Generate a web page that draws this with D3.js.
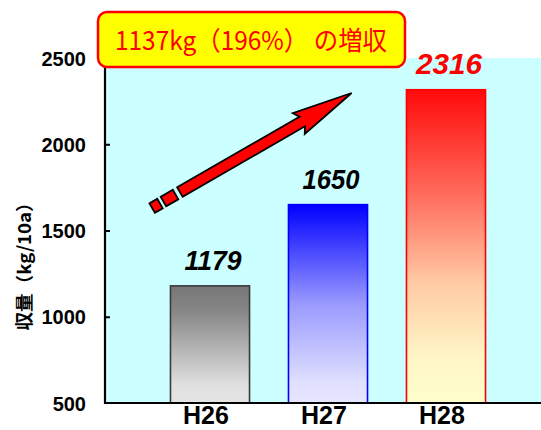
<!DOCTYPE html>
<html><head><meta charset="utf-8">
<script src="https://cdn.jsdelivr.net/npm/d3@7"></script>
<style>body{margin:0;background:#fff}svg{display:block}</style>
</head><body>
<svg id="c" width="541" height="430"></svg>
<script>
const categories = ["H26", "H27", "H28"];
const values = [1179, 1650, 2316];
const yTicks = [500, 1000, 1500, 2000, 2500];
const yTitle = "収量（kg/10a）";
const callout = "1137kg（196%） の増収";
const arrowFrom = {cat: "H26", offset: -0.49, value: 1630};
const arrowTo = {cat: "H27", offset: 0.2, value: 2297};

const svg = d3.select("#c");
const plot = {left: 106, right: 541, top: 58, bottom: 403};

const y = d3.scaleLinear().domain([500, 2500]).range([plot.bottom, plot.top]);
const x = d3.scaleBand().domain(categories).range([151, 505]).paddingInner(0.33).paddingOuter(0.165);

const defs = svg.append("defs");
const grads = [
  {id: "g0", stops: [[0, "#777777"], [0.2, "#858585"], [0.85, "#e0e0e0"], [1, "#e4e4e4"]], stroke: "#3a3a3a"},
  {id: "g1", stops: [[0, "#0000ff"], [0.5, "#9a9aff"], [0.9, "#e0e0ff"], [1, "#e6e6ff"]], stroke: "#0000ff"},
  {id: "g2", stops: [[0, "#ff0a0a"], [0.35, "#ff7060"], [0.62, "#ffcba5"], [0.85, "#fff5c5"], [1, "#ffffcc"]], stroke: "#ff0000"}
];
grads.forEach(g => {
  const lg = defs.append("linearGradient").attr("id", g.id).attr("x1", 0).attr("y1", 0).attr("x2", 0).attr("y2", 1);
  g.stops.forEach(s => lg.append("stop").attr("offset", s[0]).attr("stop-color", s[1]));
});

svg.append("rect").attr("x", plot.left).attr("y", plot.top)
  .attr("width", plot.right - plot.left).attr("height", plot.bottom - plot.top)
  .attr("fill", "#ccffff");

svg.selectAll("rect.bar").data(values).join("rect").attr("class", "bar")
  .attr("x", (d, i) => x(categories[i]))
  .attr("y", d => y(d))
  .attr("width", x.bandwidth())
  .attr("height", d => y(500) - y(d))
  .attr("fill", (d, i) => `url(#${grads[i].id})`)
  .attr("stroke", (d, i) => grads[i].stroke)
  .attr("stroke-width", 1.6);

svg.selectAll("text.val").data(values).join("text").attr("class", "val")
  .attr("x", (d, i) => x(categories[i]) + x.bandwidth() / 2 + 3)
  .attr("y", d => y(d) - 16)
  .attr("text-anchor", "middle")
  .attr("font-family", "Liberation Sans, Arial, sans-serif")
  .attr("font-style", "italic")
  .attr("font-weight", "bold")
  .attr("font-size", (d, i) => i === 2 ? 30 : 27)
  .attr("fill", (d, i) => i === 2 ? "#ff0000" : "#000")
  .attr("textLength", (d, i) => i === 2 ? 66 : 57)
  .attr("lengthAdjust", "spacingAndGlyphs")
  .text(d => d);

const yAxis = d3.axisLeft(y).tickValues(yTicks).tickFormat(d3.format("d")).tickSize(0).tickPadding(19);
const gy = svg.append("g").attr("transform", `translate(${plot.left - 1},0)`).call(yAxis);
gy.select(".domain").remove();
gy.selectAll("text").attr("font-family", "Liberation Sans, Arial, sans-serif")
  .attr("font-weight", "bold").attr("font-size", 20).attr("fill", "#000").attr("dy", "0.36em");
gy.selectAll(".tick").filter(d => d !== 500 && d !== 2500).append("line")
  .attr("x1", 0).attr("x2", 5).attr("stroke", "#000").attr("stroke-width", 2);
svg.append("line").attr("x1", plot.left - 1).attr("x2", plot.left - 1)
  .attr("y1", plot.top).attr("y2", plot.bottom + 1).attr("stroke", "#000").attr("stroke-width", 2.2);

const xAxis = d3.axisBottom(x).tickSize(0);
const gx = svg.append("g").attr("transform", `translate(0,${plot.bottom})`).call(xAxis);
gx.select(".domain").remove();
gx.selectAll("text").attr("font-family", "Liberation Sans, Arial, sans-serif")
  .attr("font-weight", "bold").attr("font-size", 25).attr("fill", "#000")
  .attr("x", -4).attr("y", 21).attr("dy", "0");
svg.append("line").attr("x1", plot.left - 2).attr("x2", plot.right)
  .attr("y1", plot.bottom).attr("y2", plot.bottom).attr("stroke", "#000").attr("stroke-width", 2.2);

svg.append("text").attr("transform", "translate(31,262) rotate(-90)")
  .attr("text-anchor", "middle")
  .attr("font-family", "Noto Sans CJK JP, sans-serif")
  .attr("font-weight", "bold").attr("font-size", 18).attr("fill", "#000")
  .attr("textLength", 137).attr("lengthAdjust", "spacingAndGlyphs")
  .text(yTitle);

const px = a => x(a.cat) + x.bandwidth() / 2 + a.offset * x.step();
const x0 = px(arrowFrom), y0 = y(arrowFrom.value), x1 = px(arrowTo), y1 = y(arrowTo.value);
const L = Math.hypot(x1 - x0, y1 - y0);
const ang = Math.atan2(y1 - y0, x1 - x0) * 180 / Math.PI;
const ag = svg.append("g").attr("transform", `translate(${x0},${y0}) rotate(${ang})`);
const hw = 5.5, headLen = 61, headW = 12, notch = 4;
const pieces = [[0, 9], [13, 27]];
pieces.forEach(p => ag.append("rect").attr("x", p[0]).attr("y", -hw).attr("width", p[1] - p[0]).attr("height", hw * 2)
  .attr("fill", "#ff0000").attr("stroke", "#000").attr("stroke-width", 1.8));
const sb = 32, hb = L - headLen;
ag.append("path").attr("d", `M${sb},${-hw} L${hb + notch},${-hw} L${hb},${-headW} L${L},0 L${hb},${headW} L${hb + notch},${hw} L${sb},${hw} Z`)
  .attr("fill", "#ff0000").attr("stroke", "#000").attr("stroke-width", 1.8).attr("stroke-linejoin", "miter");

svg.append("rect").attr("x", 98).attr("y", 12).attr("width", 307).attr("height", 55).attr("rx", 9)
  .attr("fill", "#ffff00").attr("stroke", "#ff0000").attr("stroke-width", 2.5);
svg.append("text").attr("x", 251).attr("y", 50).attr("text-anchor", "middle")
  .attr("font-family", "Noto Sans CJK JP, sans-serif").attr("font-size", 26).attr("fill", "#ff0000")
  .attr("textLength", 272).attr("lengthAdjust", "spacingAndGlyphs")
  .text(callout);
</script>
</body></html>
